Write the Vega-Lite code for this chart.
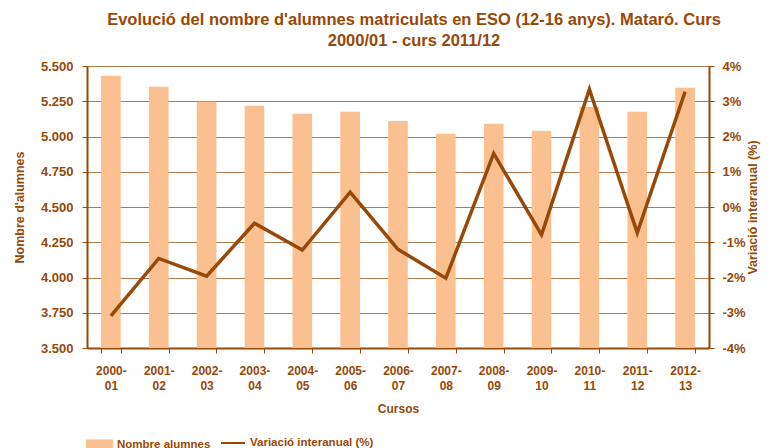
{
  "$schema": "https://vega.github.io/schema/vega-lite/v6.json",
  "width": 622,
  "height": 282,
  "autosize": {"type": "none"},
  "padding": {"left": 87, "top": 66, "right": 64, "bottom": 100},
  "background": "white",
  "config": {
    "view": {"stroke": null},
    "font": "Liberation Sans",
    "axis": {"labelFont": "Liberation Sans", "titleFont": "Liberation Sans", "labelColor": "#984807", "titleColor": "#984807", "labelFontWeight": "bold", "titleFontWeight": "bold", "domainColor": "#984807", "tickColor": "#984807"},
    "legend": {"labelFont": "Liberation Sans", "labelFontWeight": "bold", "labelColor": "#984807", "labelFontSize": 11.5}
  },
  "title": {
    "text": ["Evolució del nombre d'alumnes matriculats en ESO (12-16 anys). Mataró. Curs", "2000/01 - curs 2011/12"],
    "font": "Liberation Sans",
    "fontSize": 16.5,
    "fontWeight": "bold",
    "color": "#984807",
    "anchor": "middle",
    "dx": 16,
    "offset": 11,
    "lineHeight": 21
  },
  "data": {
    "values": [
      {"curs": "2000-01", "alumnes": 5431, "variacio": -3.09},
      {"curs": "2001-02", "alumnes": 5353, "variacio": -1.46},
      {"curs": "2002-03", "alumnes": 5247, "variacio": -1.96},
      {"curs": "2003-04", "alumnes": 5218, "variacio": -0.46},
      {"curs": "2004-05", "alumnes": 5162, "variacio": -1.22},
      {"curs": "2005-06", "alumnes": 5176, "variacio": 0.42},
      {"curs": "2006-07", "alumnes": 5110, "variacio": -1.2},
      {"curs": "2007-08", "alumnes": 5020, "variacio": -2.02},
      {"curs": "2008-09", "alumnes": 5091, "variacio": 1.52},
      {"curs": "2009-10", "alumnes": 5041, "variacio": -0.79},
      {"curs": "2010-11", "alumnes": 5209, "variacio": 3.34},
      {"curs": "2011-12", "alumnes": 5176, "variacio": -0.73},
      {"curs": "2012-13", "alumnes": 5346, "variacio": 3.27}
    ]
  },
  "encoding": {
    "x": {
      "field": "curs",
      "type": "nominal",
      "sort": null,
      "scale": {"paddingInner": 0.59, "paddingOuter": 0.295},
      "axis": {
        "title": "Cursos",
        "titleFontSize": 12,
        "titlePadding": 12,
        "labelAngle": 0,
        "labelFontSize": 12,
        "labelLineHeight": 15,
        "labelPadding": 12,
        "labelExpr": "isString(datum.value) ? [slice(datum.value, 0, 5), slice(datum.value, 5)] : ''",
        "tickBand": "extent",
        "tickSize": 5,
        "domainWidth": 2,
        "grid": false
      }
    }
  },
  "layer": [
    {
      "mark": {"type": "bar", "clip": true},
      "encoding": {
        "y": {
          "field": "alumnes",
          "type": "quantitative",
          "scale": {"domain": [3500, 5500], "zero": false, "nice": false},
          "axis": {
            "title": "Nombre d'alumnes",
            "titleFontSize": 12.5,
            "titlePadding": 14,
            "values": [3500, 3750, 4000, 4250, 4500, 4750, 5000, 5250, 5500],
            "labelExpr": "replace(format(datum.value, ',.0f'), ',', '.')",
            "labelFontSize": 13,
            "labelPadding": 9,
            "tickSize": 5,
            "domainWidth": 2,
            "grid": true,
            "gridColor": "#B07A4A",
            "gridWidth": 1.2
          }
        },
        "fill": {
          "datum": "Nombre alumnes",
          "scale": {"range": ["#FAC090"]},
          "legend": {"title": null, "orient": "none", "legendX": -2, "legendY": 364, "symbolType": "M -1 -0.37 L 1 -0.37 L 1 0.37 L -1 0.37 Z", "symbolSize": 729, "labelOffset": 3}
        }
      }
    },
    {
      "mark": {"type": "line", "strokeWidth": 3.5},
      "encoding": {
        "y": {
          "field": "variacio",
          "type": "quantitative",
          "scale": {"domain": [-4, 4], "nice": false},
          "axis": {
            "orient": "right",
            "title": "Variació interanual (%)",
            "titleFontSize": 12.5,
            "titleAngle": 270,
            "titlePadding": 14,
            "values": [-4, -3, -2, -1, 0, 1, 2, 3, 4],
            "labelExpr": "datum.value + '%'",
            "labelFontSize": 13,
            "labelPadding": 8,
            "tickSize": 5,
            "domainWidth": 2,
            "grid": false
          }
        },
        "stroke": {
          "datum": "Variació interanual (%)",
          "scale": {"range": ["#984807"]},
          "legend": {"title": null, "orient": "none", "legendX": 133, "legendY": 364, "symbolType": "stroke", "symbolSize": 576, "symbolStrokeWidth": 2, "labelOffset": 4}
        }
      }
    }
  ],
  "resolve": {"scale": {"y": "independent", "fill": "independent", "stroke": "independent"}}
}
